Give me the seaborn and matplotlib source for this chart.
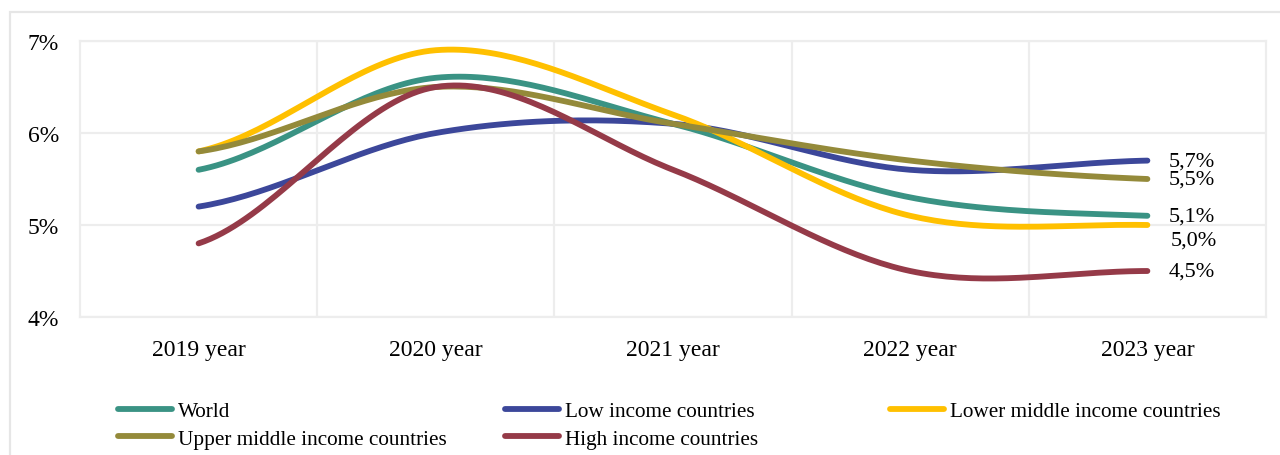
import numpy as np
import pandas as pd
import matplotlib
matplotlib.use("Agg")
import matplotlib.pyplot as plt
from matplotlib.patches import Rectangle
from matplotlib.lines import Line2D
import seaborn as sns

# ---- data -------------------------------------------------------------
years = ["2019 year", "2020 year", "2021 year", "2022 year", "2023 year"]
world = [5.6, 6.6, 6.1, 5.3, 5.1]
low_income = [5.2, 6.0, 6.1, 5.6, 5.7]
lower_middle = [5.8, 6.9, 6.2, 5.1, 5.0]
upper_middle = [5.8, 6.5, 6.1, 5.7, 5.5]
high_income = [4.8, 6.5, 5.6, 4.5, 4.5]

series_names = ["World", "Low income countries", "Lower middle income countries",
                "Upper middle income countries", "High income countries"]
series_values = [world, low_income, lower_middle, upper_middle, high_income]
colors = ["#3A9384", "#3C479A", "#FFC000", "#948A3A", "#953A48"]
y_ticks = [4, 5, 6, 7]

# labels printed at the last point (decimal comma)
end_labels = ["5,1%", "5,7%", "5,0%", "5,5%", "4,5%"]


def smooth_curve(values, steps=40):
    """Catmull-Rom spline through the points (like a smoothed line chart)."""
    p = np.asarray(values, dtype=float)
    ext = np.concatenate([[p[0]], p, [p[-1]]])
    xs, ys = [], []
    for i in range(len(p) - 1):
        p0, p1, p2, p3 = ext[i], ext[i + 1], ext[i + 2], ext[i + 3]
        m1 = (p2 - p0) / 2.0
        m2 = (p3 - p1) / 2.0
        t = np.linspace(0, 1, steps, endpoint=(i == len(p) - 2))
        h00 = 2 * t**3 - 3 * t**2 + 1
        h10 = t**3 - 2 * t**2 + t
        h01 = -2 * t**3 + 3 * t**2
        h11 = t**3 - t**2
        ys.append(h00 * p1 + h10 * m1 + h01 * p2 + h11 * m2)
        xs.append(i + t)
    return np.concatenate(xs), np.concatenate(ys)


frames = []
for name, vals in zip(series_names, series_values):
    sx, sy = smooth_curve(vals)
    frames.append(pd.DataFrame({"x": sx, "value": sy, "series": name}))
curves = pd.concat(frames, ignore_index=True)

# ---- style ------------------------------------------------------------
sns.set_theme(style="white")
plt.rcParams["font.family"] = ["Liberation Serif", "DejaVu Serif"]
plt.rcParams["text.color"] = "#000000"

LW = 4.2

fig = plt.figure(figsize=(12.8, 4.56), dpi=100)
ax = fig.add_axes([80 / 1280, 1 - 318 / 456, (1266 - 80) / 1280, (318 - 42) / 456])

sns.lineplot(data=curves, x="x", y="value", hue="series", hue_order=series_names,
             palette=colors, linewidth=LW, ax=ax, legend=False,
             solid_capstyle="round", sort=False)

ax.set_xlim(-0.5, len(years) - 0.5)
ax.set_ylim(min(y_ticks), max(y_ticks))
ax.set_xticks(range(len(years)))
ax.set_xticklabels(years)
ax.set_yticks(y_ticks)
ax.set_yticklabels([f"{v}%" for v in y_ticks])
ax.set_xlabel("")
ax.set_ylabel("")

# gridlines between categories and at each percent
grid_c = "#EDEDED"
for b in np.arange(0.5, len(years) - 0.5, 1.0):
    ax.axvline(b, color=grid_c, lw=1.6, zorder=0)
for v in y_ticks:
    ax.axhline(v, color=grid_c, lw=1.6, zorder=0)
for s in ax.spines.values():
    s.set_color(grid_c)
    s.set_linewidth(1.6)

ax.tick_params(axis="both", length=0, labelsize=17, colors="#000000")
ax.tick_params(axis="x", pad=15.5)
ax.tick_params(axis="y", pad=15)

# end-of-line value labels
for name, vals, lab in zip(series_names, series_values, end_labels):
    dy = -11 if lab == "5,0%" else 0
    dx = 17 if lab == "5,0%" else 15
    ax.annotate(lab, xy=(len(years) - 1, vals[-1]), xytext=(dx, dy),
                textcoords="offset points", ha="left", va="center",
                fontsize=16, color="#000000")

# legend, three columns
handles = {n: Line2D([], [], color=c, lw=LW, solid_capstyle="round")
           for n, c in zip(series_names, colors)}
columns = [
    (["World", "Upper middle income countries"], 118),
    (["Low income countries", "High income countries"], 505),
    (["Lower middle income countries"], 890),
]
for names, xpx in columns:
    fig.legend([handles[n] for n in names], names, loc="upper left",
               bbox_to_anchor=(xpx / 1280, 1 - 402.5 / 456), frameon=False,
               fontsize=15.3, handlelength=2.55, handletextpad=0.28,
               labelspacing=0.36, borderpad=0, borderaxespad=0)

# chart area frame
fig.patches.append(Rectangle((10 / 1280, -0.1), 1.2, 1.1 - 13 / 456,
                             transform=fig.transFigure, fill=False,
                             edgecolor="#E6E6E6", lw=1.6, zorder=-1))

fig.savefig("out.png", dpi=100)
